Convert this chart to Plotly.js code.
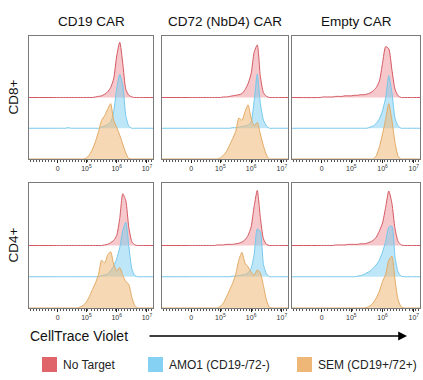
<!DOCTYPE html>
<html>
<head>
<meta charset="utf-8">
<script src="https://cdn.plot.ly/plotly-3.0.1.min.js"></script>
<style>html,body{margin:0;padding:0;background:#fff;}#chart{width:423px;height:380px;}</style>
</head>
<body>
<div id="chart"></div>
<script>
// CellTrace Violet intensity grid (log10 display units)
const CTV_LOG = [4.0,4.1,4.2,4.3,4.4,4.5,4.6,4.7,4.8,4.9,5.0,5.1,5.2,5.3,5.4,5.5,5.6,5.7,5.8,5.9,6.0,6.1,6.2,6.3,6.4,6.5,6.6,6.7,6.8,6.9];
const TICK_VALS = [4.05, 5, 6, 7];
const TICK_LABELS = ['0', '10<sup>5</sup>', '10<sup>6</sup>', '10<sup>7</sup>'];
const ROW_LABELS = ['CD8+', 'CD4+'];
const COL_LABELS = ['CD19 CAR', 'CD72 (NbD4) CAR', 'Empty CAR'];
const SERIES = ['No Target', 'AMO1 (CD19-/72-)', 'SEM (CD19+/72+)'];

// % of mode
// CD8+
const cd8_cd19_noTarget = [0,0,0,0,0, 0,0,0,0,0, 0,0,0,1,2, 3,6,10,18,34, 75,100,62,15,4, 1,0,0,0,0];
const cd8_cd19_amo1     = [0,0,0,0,1, 0,0,0,0,0, 0,0,0,0,0, 2,4,7,11,30, 72,97,78,23,4, 0,0,0,0,0];
const cd8_cd19_sem      = [0,0,0,0,0, 0,0,0,0,0, 2,8,18,32,50, 70,78,90,100,70, 57,43,27,11,1, 0,0,0,0,0];
const cd8_cd72_noTarget = [0,0,0,0,0, 0,0,0,0,0, 0,1,1,2,3, 4,5,7,14,25, 43,82,95,38,9, 2,0,0,0,0];
const cd8_cd72_amo1     = [0,0,0,0,0, 0,0,0,0,0, 0,0,0,0,1, 1,2,3,4,6, 12,50,98,45,15, 4,0,0,0,0];
const cd8_cd72_sem      = [0,0,0,0,0, 0,0,0,0,0, 2,7,14,25,37, 50,74,70,85,98, 74,60,66,45,24, 7,0,0,0,0];
const cd8_empty_noTarget= [0,1,1,1,1, 2,2,2,3,3, 3,4,4,5,5, 6,8,12,18,30, 62,92,88,50,15, 3,0,0,0,0];
const cd8_empty_amo1    = [0,0,0,0,0, 0,0,0,0,0, 0,0,0,0,0, 0,2,4,9,17, 32,55,95,65,18, 4,0,0,0,0];
const cd8_empty_sem     = [0,0,0,0,0, 0,0,0,0,0, 0,0,0,0,0, 0,0,0,6,22, 45,72,100,70,30, 5,0,0,0,0];
// CD4+
const cd4_cd19_noTarget = [0,0,0,0,0, 0,0,0,0,0, 0,0,0,0,0, 0,1,2,5,9, 18,48,92,80,32, 7,1,0,0,0];
const cd4_cd19_amo1     = [0,0,0,0,0, 0,0,0,0,0, 0,0,0,0,0, 2,3,5,11,19, 32,52,82,97,55, 14,2,0,0,0];
const cd4_cd19_sem      = [0,0,0,0,0, 0,0,0,2,5, 11,21,33,45,60, 85,80,94,100,78, 66,72,58,47,42, 19,4,0,0,0];
const cd4_cd72_noTarget = [0,0,0,0,0, 0,0,0,0,1, 1,1,2,2,2, 3,4,6,10,18, 33,70,98,50,12, 2,0,0,0,0];
const cd4_cd72_amo1     = [0,0,0,0,0, 0,0,0,0,0, 0,0,0,0,1, 1,2,3,4,7, 15,40,85,80,22, 5,0,0,0,0];
const cd4_cd72_sem      = [0,0,0,0,0, 0,0,0,0,0, 3,9,20,32,44, 60,85,99,80,73, 64,58,68,62,40, 14,1,0,0,0];
const cd4_empty_noTarget= [0,0,0,0,0, 1,1,1,1,2, 2,2,2,3,3, 4,6,9,15,26, 40,68,97,75,30, 7,1,0,0,0];
const cd4_empty_amo1    = [0,0,0,0,0, 0,0,0,0,0, 0,0,1,2,4, 7,10,15,21,30, 44,63,88,90,35, 8,1,0,0,0];
const cd4_empty_sem     = [0,0,0,0,0, 0,0,0,0,0, 0,0,0,0,0, 1,4,9,18,30, 47,60,85,92,50, 14,2,0,0,0];

const PANELS = [
  [cd8_cd19_noTarget, cd8_cd19_amo1, cd8_cd19_sem],
  [cd8_cd72_noTarget, cd8_cd72_amo1, cd8_cd72_sem],
  [cd8_empty_noTarget, cd8_empty_amo1, cd8_empty_sem],
  [cd4_cd19_noTarget, cd4_cd19_amo1, cd4_cd19_sem],
  [cd4_cd72_noTarget, cd4_cd72_amo1, cd4_cd72_sem],
  [cd4_empty_noTarget, cd4_empty_amo1, cd4_empty_sem]
];

const FONT = 'Liberation Sans, Arial, Helvetica, sans-serif';
const LINE_COLORS = ['rgb(212,88,98)', 'rgb(118,200,236)', 'rgb(226,170,100)'];
const FILL_COLORS = ['rgba(232,118,126,0.40)', 'rgba(118,204,242,0.48)', 'rgba(240,184,118,0.55)'];
const SWATCH = ['#e0656b', '#85d1f3', '#efb777'];
const OFFSETS = [0.5, 0.25, 0];
const PEAK = 0.45;
const XR = [3.1, 7.2];
const W = 423, H = 380;
const COLS_PX = [[29,153],[162,288],[292,420]];
const ROWS_PX = [[36,159],[183,308]];

const data = [];
const layout = {
  width: W, height: H,
  margin: {l:0, r:0, t:0, b:0},
  paper_bgcolor: '#fff', plot_bgcolor: '#fff',
  showlegend: false,
  font: {family: FONT, color: '#111'},
  annotations: [], shapes: []
};

PANELS.forEach((series, p) => {
  const r = Math.floor(p / 3), c = p % 3;
  const k = p + 1;
  const xa = 'x' + (k === 1 ? '' : k), ya = 'y' + (k === 1 ? '' : k);
  series.forEach((vals, s) => {
    const off = OFFSETS[s];
    data.push({
      x: [XR[0]].concat(CTV_LOG, [XR[1]]),
      y: [off].concat(vals.map(v => off + v / 100 * PEAK), [off]),
      xaxis: xa, yaxis: ya,
      mode: 'lines', name: SERIES[s],
      line: {color: LINE_COLORS[s], width: 1, shape: 'spline', smoothing: 0.6},
      fill: 'toself', fillcolor: FILL_COLORS[s],
      hoverinfo: 'skip'
    });
  });
  const cx = COLS_PX[c], ry = ROWS_PX[r];
  layout['xaxis' + (k === 1 ? '' : k)] = {
    domain: [cx[0] / W, cx[1] / W], anchor: ya,
    range: XR, showgrid: false, zeroline: false,
    showline: true, mirror: true, linecolor: '#7a7a7a', linewidth: 1,
    tickmode: 'array', tickvals: TICK_VALS, ticktext: TICK_LABELS,
    ticks: 'outside', ticklen: 3, tickcolor: '#222', tickwidth: 1,
    minor: {ticks: 'outside', dtick: 0.1, tick0: 3.15, ticklen: 2, tickcolor: '#555', tickwidth: 1},
    tickfont: {size: 7, color: '#333', family: FONT},
    fixedrange: true
  };
  layout['yaxis' + (k === 1 ? '' : k)] = {
    domain: [1 - ry[1] / H, 1 - ry[0] / H], anchor: xa,
    range: [0, 1], showgrid: false, zeroline: false,
    showline: true, mirror: true, linecolor: '#7a7a7a', linewidth: 1,
    showticklabels: false, ticks: '', fixedrange: true
  };
});

// Column titles
COL_LABELS.forEach((t, c) => {
  layout.annotations.push({
    text: t, xref: 'paper', yref: 'paper',
    x: (COLS_PX[c][0] + COLS_PX[c][1]) / 2 / W, y: 1 - 22 / H,
    xanchor: 'center', yanchor: 'middle', showarrow: false,
    font: {size: 13.5, color: '#111', family: FONT}
  });
});
// Row titles
ROW_LABELS.forEach((t, r) => {
  layout.annotations.push({
    text: t, xref: 'paper', yref: 'paper',
    x: 13 / W, y: 1 - (ROWS_PX[r][0] + ROWS_PX[r][1]) / 2 / H,
    xanchor: 'center', yanchor: 'middle', showarrow: false, textangle: -90,
    font: {size: 13.5, color: '#111', family: FONT}
  });
});
// Axis caption with arrow
layout.annotations.push({
  text: 'CellTrace Violet', xref: 'paper', yref: 'paper',
  x: 28 / W, y: 1 - 336 / H, xanchor: 'left', yanchor: 'middle', showarrow: false,
  font: {size: 14, color: '#111', family: FONT}
});
layout.annotations.push({
  text: '', xref: 'paper', yref: 'paper',
  x: 407 / W, y: 1 - 336 / H, ax: -259, ay: 0,
  showarrow: true, arrowhead: 2, arrowsize: 1.1, arrowwidth: 1.6, arrowcolor: '#000'
});
// Legend
const LEG_X = [42, 148, 297];
SERIES.forEach((t, s) => {
  layout.shapes.push({
    type: 'rect', xref: 'paper', yref: 'paper',
    x0: LEG_X[s] / W, x1: (LEG_X[s] + 15) / W,
    y0: 1 - 372 / H, y1: 1 - 357 / H,
    fillcolor: SWATCH[s], line: {width: 0}
  });
  layout.annotations.push({
    text: t, xref: 'paper', yref: 'paper',
    x: (LEG_X[s] + 19) / W, y: 1 - 364.5 / H,
    xanchor: 'left', yanchor: 'middle', showarrow: false,
    font: {size: 12, color: '#222', family: FONT}
  });
});

Plotly.newPlot('chart', data, layout, {staticPlot: true, displayModeBar: false});
</script>
</body>
</html>
